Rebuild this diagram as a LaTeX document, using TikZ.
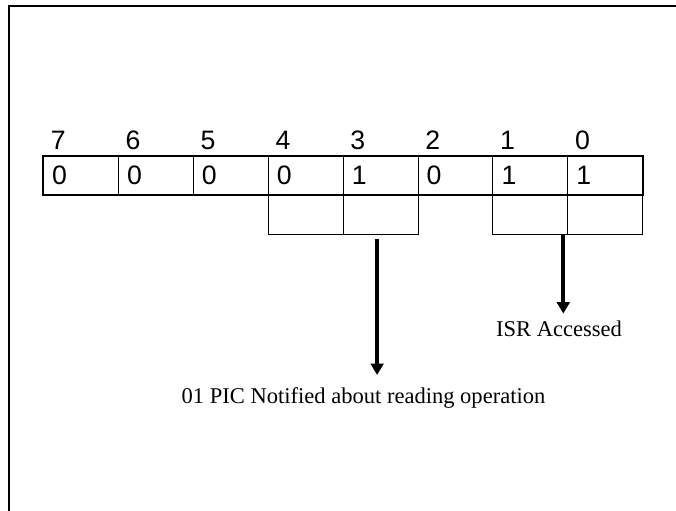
\documentclass[tikz,border=0pt]{standalone}
\usepackage{fontspec}
\setmainfont{Liberation Serif}
\newfontfamily\digitfont{Liberation Sans}
\usetikzlibrary{arrows.meta}

\tikzset{every picture/.style={line width=0.75pt}}
\tikzset{
  bitcell/.style={draw, line width=0.75pt, anchor=north west, minimum width=56.2pt, minimum height=28.8pt,
    inner xsep=6.5pt, inner ysep=0pt, text width=43.2pt, align=left, font=\digitfont\fontsize{20}{22}\selectfont},
  lowcell/.style={draw, line width=0.75pt, anchor=north west, minimum width=56.2pt, minimum height=29.2pt, inner sep=0pt},
  bitnum/.style={anchor=base west, inner sep=0pt, font=\digitfont\fontsize{20}{22}\selectfont},
  rowframe/.style={line width=1.5pt},
  pointer/.style={line width=3pt, -{Triangle[width=9.5pt,length=8.5pt]}},
  note/.style={inner sep=0.75pt, font=\fontsize{16.9}{19}\selectfont}
}

\begin{document}
\begin{tikzpicture}[x=0.75pt,y=0.75pt,yscale=-1,xscale=1]
\useasboundingbox (0,0) rectangle (676,511);

%Frame
\draw [line width=1.5pt] (9,511) -- (9,5.5) -- (676,5.5) ;

%Register cells, bits 7..0
\foreach \b/\v [count=\i from 0] in {7/0,6/0,5/0,4/0,3/1,2/0,1/1,0/1}{
  \node [bitcell] (v\b) at (43+\i*74.9,156) {\v};
  \node [bitnum] (n\b) at ([xshift=5.5pt,yshift=-5pt]v\b.north west) {\b};
}
\draw [rowframe] (v7.north west) rectangle (v0.south east) ;

%Field boxes
\foreach \b in {4,3,1,0}{
  \node [lowcell] (lo\b) at (v\b.south west) {};
}

% Text Node
\node [note, anchor=base] (pic) at (363.5,403) {01 PIC Notified about reading operation};
% Text Node
\node [note, anchor=base] (isr) at (559,336) {ISR Accessed};

%Arrows
\draw [pointer, shorten <=3pt, shorten >=8pt] ([xshift=-2.6pt]lo3.south) -- ([xshift=-2.6pt]lo3.south |- pic.north) ;
\draw [pointer, shorten >=4pt] ([xshift=-3pt]lo0.south west) -- ([xshift=-3pt]lo0.south west |- isr.north) ;

\end{tikzpicture}
\end{document}
